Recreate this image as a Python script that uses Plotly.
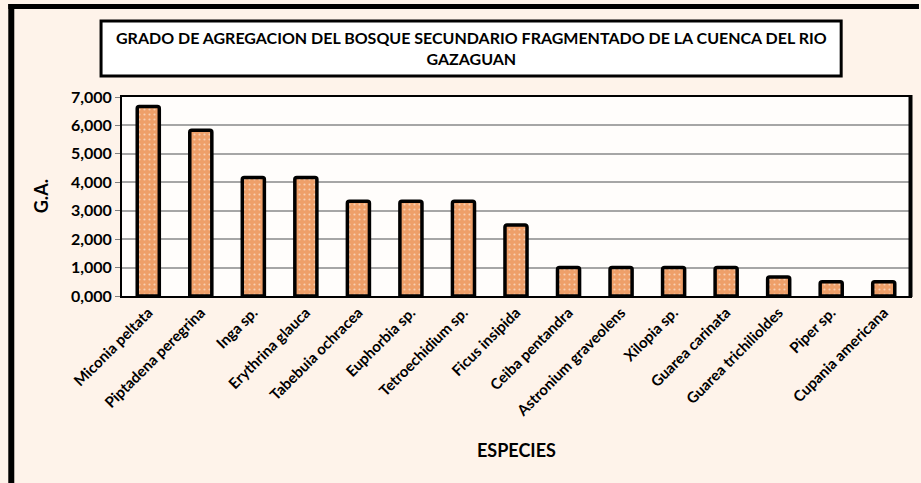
import plotly.graph_objects as go

# Species and their aggregation degree (G.A.)
especies = [
    "Miconia peltata", "Piptadena peregrina", "Inga sp.", "Erythrina glauca",
    "Tabebuia ochracea", "Euphorbia sp.", "Tetroechidium sp.", "Ficus insipida",
    "Ceiba pentandra", "Astronium graveolens", "Xilopia sp.", "Guarea carinata",
    "Guarea trichilioldes", "Piper sp.", "Cupania americana",
]
ga = [6.667, 5.833, 4.167, 4.167, 3.333, 3.333, 3.333, 2.5,
      1.0, 1.0, 1.0, 1.0, 0.667, 0.5, 0.5]

y_ticks = [0, 1, 2, 3, 4, 5, 6, 7]
y_ticktext = ["0,000", "1,000", "2,000", "3,000", "4,000", "5,000", "6,000", "7,000"]

titulo = ("GRADO DE AGREGACION DEL BOSQUE SECUNDARIO FRAGMENTADO DE LA CUENCA DEL RIO"
          "<br>GAZAGUAN")

W, H = 921, 483
ML, MR, MT, MB = 122, 9, 97, 187
PW, PH = W - ML - MR, H - MT - MB


def px(x):
    return (x - ML) / PW


def py(y):
    return 1 - (y - MT) / PH


FONT = "Lato"

fig = go.Figure(go.Bar(
    x=especies,
    y=ga,
    marker=dict(
        color="#F0A674",
        line=dict(color="black", width=3.5),
        pattern=dict(shape=".", fgcolor="white", bgcolor="#EE9F69",
                     size=5, solidity=0.15),
    ),
    width=0.42,
))

fig.update_layout(
    width=W, height=H,
    margin=dict(l=ML, r=MR, t=MT, b=MB),
    paper_bgcolor="#FEF3EA",
    plot_bgcolor="#FFFDFB",
    barcornerradius=2,
    showlegend=False,
    font=dict(family=FONT, color="black"),
    xaxis=dict(
        tickangle=-45,
        tickfont=dict(family=FONT, size=15, color="black", weight="bold"),
        showline=True, linecolor="black", linewidth=2, mirror=True,
        ticks="", showgrid=False,
    ),
    yaxis=dict(
        range=[0, 7], tickvals=y_ticks, ticktext=y_ticktext,
        tickfont=dict(family=FONT, size=16, color="black", weight="bold"),
        showgrid=True, gridcolor="#A6A6A6", gridwidth=1.5,
        showline=True, linecolor="black", linewidth=2, mirror=True,
        ticks="outside", ticklen=5, tickcolor="#7F7F7F",
        zeroline=False,
    ),
    shapes=[
        # outer frame: top and left edges
        dict(type="line", xref="paper", yref="paper",
             x0=px(8), x1=px(921), y0=py(6.5), y1=py(6.5),
             line=dict(color="black", width=5)),
        dict(type="line", xref="paper", yref="paper",
             x0=px(11), x1=px(11), y0=py(4), y1=py(483),
             line=dict(color="black", width=6)),
        # heavy right edge of the plot area
        dict(type="line", xref="paper", yref="paper",
             x0=px(912.5), x1=px(912.5), y0=py(95), y1=py(297),
             line=dict(color="black", width=4)),
        # title box
        dict(type="rect", xref="paper", yref="paper",
             x0=px(101), x1=px(843), y0=py(21), y1=py(76),
             fillcolor="white", line=dict(color="black", width=3)),
    ],
    annotations=[
        dict(text="<b>" + titulo + "</b>", xref="paper", yref="paper",
             x=px(472), y=py(48.5), showarrow=False,
             font=dict(family=FONT, size=16, color="black"),
             align="center", xanchor="center", yanchor="middle"),
        dict(text="<b>G.A.</b>", xref="paper", yref="paper",
             x=px(41), y=py(196), showarrow=False, textangle=-90,
             font=dict(family=FONT, size=18, color="black"),
             xanchor="center", yanchor="middle"),
        dict(text="<b>ESPECIES</b>", xref="paper", yref="paper",
             x=px(517), y=py(450), showarrow=False,
             font=dict(family=FONT, size=18, color="black"),
             xanchor="center", yanchor="middle"),
    ],
)

fig.write_html("out.html")
